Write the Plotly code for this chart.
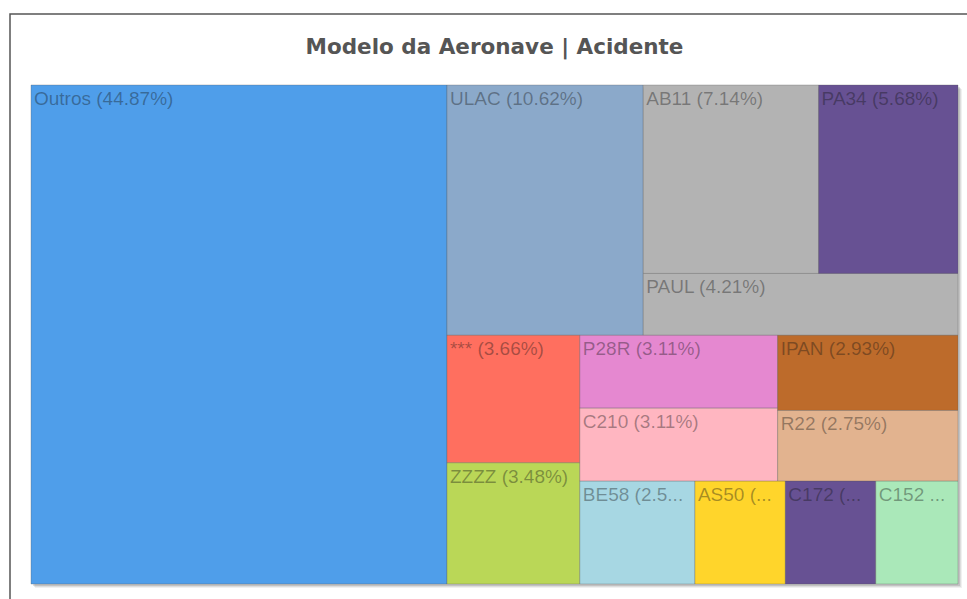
import plotly.graph_objects as go

# ---- data ----
models = ["Outros", "ULAC", "AB11", "PA34", "PAUL", "***", "ZZZZ", "P28R",
          "C210", "IPAN", "R22", "BE58", "AS50", "C172", "C152"]
counts = [245, 58, 39, 31, 23, 20, 19, 17, 17, 16, 15, 14, 11, 11, 10]
colors = ["#4f9eea", "#8ba9ca", "#b3b3b3", "#675193", "#b3b3b3", "#ff6f5f",
          "#bad757", "#e588d0", "#ffb6c1", "#bd6b2b", "#e2b38f", "#a7d7e3",
          "#ffd52b", "#675193", "#aae8b9"]
# labels that the reference truncates: number of characters kept before "..."
truncated = {"BE58": 9, "AS50": 6, "C172": 6, "C152": 5}

# invisible grouping nodes that reproduce the reference's tiling
group_ids = ["g1", "g2", "g3", "g4", "g5", "g6", "g7", "g8", "g9", "g10", "g11"]
group_parents = ["", "g1", "g1", "g2", "g4", "g3", "g3", "g7", "g7", "g8", "g8"]
model_parents = ["", "g2", "g5", "g5", "g4", "g6", "g6", "g10", "g10",
                 "g11", "g11", "g9", "g9", "g9", "g9"]

total = sum(counts)
texts = []
for m, c in zip(models, counts):
    s = f"{m} ({c / total * 100:.2f}%)"
    if m in truncated:
        s = s[:truncated[m]] + "..."
    texts.append(s)

children = {}
for gid, p in zip(group_ids, group_parents):
    children.setdefault(p, []).append(gid)
for m, p in zip(models, model_parents):
    children.setdefault(p, []).append(m)
val_map = dict(zip(models, counts))


def gval(n):
    if n in val_map:
        return val_map[n]
    return sum(gval(ch) for ch in children.get(n, []))


ids, parents, values, node_colors, node_text, line_w = [], [], [], [], [], []
order = ["Outros", "g1", "g2", "ULAC", "g4", "g5", "AB11", "PA34", "PAUL",
         "g3", "g6", "***", "ZZZZ", "g7", "g8", "g10", "P28R", "C210", "g11",
         "IPAN", "R22", "g9", "BE58", "AS50", "C172", "C152"]
gparent = dict(zip(group_ids, group_parents))
mparent = dict(zip(models, model_parents))
for n in order:
    ids.append(n)
    values.append(gval(n))
    if n in val_map:
        i = models.index(n)
        parents.append(mparent[n])
        node_colors.append(colors[i])
        node_text.append(texts[i])
        line_w.append(1)
    else:
        parents.append(gparent[n])
        node_colors.append("rgba(0,0,0,0)")
        node_text.append("")
        line_w.append(0)

fig = go.Figure(go.Treemap(
    ids=ids,
    labels=ids,
    parents=parents,
    values=values,
    branchvalues="total",
    sort=False,
    text=node_text,
    texttemplate="%{text}",
    textposition="top left",
    textfont=dict(family="Liberation Sans, Arial, sans-serif", size=19,
                  color="rgba(20,20,20,0.38)"),
    marker=dict(colors=node_colors,
                line=dict(color="rgba(90,90,90,0.3)", width=line_w),
                pad=dict(t=0, l=0, r=0, b=0), depthfade=False),
    tiling=dict(packing="slice-dice", pad=0),
    pathbar=dict(visible=False),
    hoverinfo="text",
))

W, H = 967, 599
ml, mr, mt, mb = 31, 9, 85, 15
pw, ph = W - ml - mr, H - mt - mb

shapes = []
for off, a in [(4, 0.06), (3, 0.08), (2, 0.12)]:
    shapes.append(dict(type="rect", xref="paper", yref="paper", layer="below",
                       x0=off / pw, x1=1 + off / pw, y0=-off / ph, y1=1 - off / ph,
                       line=dict(width=0), fillcolor=f"rgba(0,0,0,{a})"))
shapes.append(dict(type="rect", xref="paper", yref="paper",
                   x0=(10 - ml) / pw, x1=1.1, y0=-0.2, y1=(H - mb - 14) / ph,
                   line=dict(color="#555555", width=1.5), fillcolor="rgba(0,0,0,0)"))

fig.update_layout(
    width=W, height=H,
    margin=dict(l=ml, r=mr, t=mt, b=mb),
    paper_bgcolor="white",
    title=dict(text="<b>Modelo da Aeronave | Acidente</b>",
               x=0.5, xref="paper", y=1 - 46 / H, yref="container",
               xanchor="center", yanchor="middle",
               font=dict(family="DejaVu Sans, sans-serif", size=21.5, color="#555555")),
    shapes=shapes,
)

fig.write_html("out.html", config={"displayModeBar": False},
               post_script="document.body.style.margin='0';document.body.style.overflow='hidden';")
